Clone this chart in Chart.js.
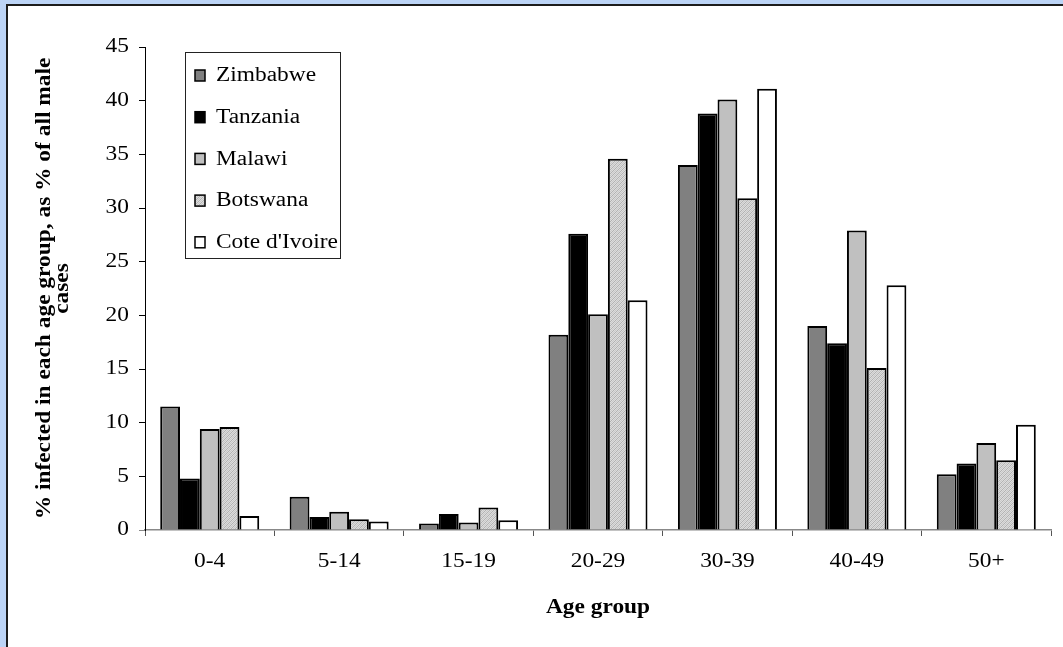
<!DOCTYPE html>
<html><head><meta charset="utf-8">
<script src="https://cdn.jsdelivr.net/npm/chart.js@4/dist/chart.umd.min.js"></script>
<style>html,body{margin:0;padding:0;background:#bcd4f6;overflow:hidden}canvas{display:block}</style>
</head><body><canvas id="c" width="1063" height="647"></canvas>
<script>
const categories = ['0-4','5-14','15-19','20-29','30-39','40-49','50+'];
const seriesNames = ['Zimbabwe','Tanzania','Malawi','Botswana',"Cote d'Ivoire"];
const zimbabwe    = [11.5, 3.1, 0.6, 18.2, 34.0, 19.0, 5.2];
const tanzania    = [4.8, 1.2, 1.5, 27.6, 38.8, 17.4, 6.2];
const malawi      = [9.4, 1.7, 0.7, 20.1, 40.1, 27.9, 8.1];
const botswana    = [9.6, 1.0, 2.1, 34.6, 30.9, 15.1, 6.5];
const coteDIvoire = [1.3, 0.8, 0.9, 21.4, 41.1, 22.8, 9.8];
const yTicks = [0, 5, 10, 15, 20, 25, 30, 35, 40, 45];
const yTitle = ['% infected in each age group, as % of all male', 'cases'];
const xTitle = 'Age group';

const SERIF = "'Liberation Serif', 'Times New Roman', serif";
const TEXT_STRETCH = 1.17;

const canvas = document.getElementById('c');
const ctx0 = canvas.getContext('2d');
const origFillText = ctx0.fillText.bind(ctx0);
ctx0.fillText = function (text, x, y, maxWidth) {
  this.save();
  this.translate(x, y);
  this.scale(TEXT_STRETCH, 1);
  if (maxWidth !== undefined) origFillText(text, 0, 0, maxWidth / TEXT_STRETCH);
  else origFillText(text, 0, 0);
  this.restore();
};

function hatch() {
  const p = document.createElement('canvas');
  p.width = 4; p.height = 4;
  const g = p.getContext('2d');
  g.fillStyle = '#dcdcdc'; g.fillRect(0, 0, 4, 4);
  g.fillStyle = '#b2b2b2';
  for (let i = 0; i < 4; i++) g.fillRect(i, 3 - i, 1, 1);
  g.fillStyle = '#c8c8c8';
  for (let i = 0; i < 4; i++) g.fillRect(i, (5 - i) % 4, 1, 1);
  return g.createPattern(p, 'repeat');
}
const fills = ['#808080', '#000000', '#c0c0c0', hatch(), '#ffffff'];
const values = [zimbabwe, tanzania, malawi, botswana, coteDIvoire];

const panelPlugin = {
  id: 'panel',
  beforeDraw(chart) {
    const ctx = chart.ctx;
    ctx.save();
    ctx.fillStyle = '#ffffff';
    ctx.fillRect(6, 4, 1200, 800);
    ctx.strokeStyle = '#1c1c1c';
    ctx.lineWidth = 2;
    ctx.beginPath();
    ctx.moveTo(7, 800); ctx.lineTo(7, 5); ctx.lineTo(1200, 5);
    ctx.stroke();
    ctx.restore();
  }
};

const legendPlugin = {
  id: 'boxLegend',
  afterDraw(chart) {
    const ctx = chart.ctx;
    ctx.save();
    ctx.fillStyle = '#ffffff';
    ctx.fillRect(185, 52, 155, 206);
    ctx.strokeStyle = '#222';
    ctx.lineWidth = 1;
    ctx.strokeRect(185.5, 52.5, 155, 206);
    chart.data.datasets.forEach((ds, i) => {
      const cy = 75 + i * 41.7;
      ctx.fillStyle = ds.backgroundColor;
      ctx.fillRect(195, cy - 5, 10, 11);
      ctx.strokeStyle = '#000';
      ctx.lineWidth = 1.5;
      ctx.strokeRect(195, cy - 5, 10, 11);
      ctx.fillStyle = '#000';
      ctx.font = '20px ' + SERIF;
      ctx.textBaseline = 'middle';
      ctx.textAlign = 'left';
      ctx.fillText(ds.label, 216, cy + 1);
    });
    ctx.restore();
  }
};

new Chart(canvas, {
  type: 'bar',
  data: {
    labels: categories,
    datasets: seriesNames.map((name, i) => ({
      label: name,
      data: values[i],
      backgroundColor: fills[i],
      borderColor: '#000',
      borderWidth: 2,
      barPercentage: 1.0,
      categoryPercentage: 0.765
    }))
  },
  options: {
    responsive: false,
    animation: false,
    devicePixelRatio: 1,
    layout: { padding: { left: 0, top: 47, right: 12, bottom: 0 } },
    plugins: { legend: { display: false }, tooltip: { enabled: false } },
    scales: {
      x: {
        ticks: { color: '#000', font: { family: SERIF, size: 20 }, padding: 14 },
        grid: { offset: true, drawOnChartArea: false, drawTicks: true, tickLength: 6, tickColor: '#555', lineWidth: 1 },
        border: { display: true, color: '#888', width: 1.5 },
        title: { display: true, text: xTitle, color: '#000', font: { family: SERIF, size: 20, weight: 'bold' }, padding: { top: 0, bottom: 27 } },
        afterFit(s) { s.height = 117; }
      },
      y: {
        min: 0, max: 45,
        afterBuildTicks(s) { s.ticks = yTicks.map(v => ({ value: v })); },
        ticks: { color: '#000', font: { family: SERIF, size: 20 }, padding: 10 },
        grid: { drawOnChartArea: false, drawTicks: true, tickLength: 6, tickColor: c => (c.tick && c.tick.value === 0 ? '#888' : '#000') },
        border: { display: true, color: '#000', width: 1 },
        title: { display: true, text: yTitle, color: '#000', font: { family: SERIF, size: 20, weight: 'bold', lineHeight: 0.88 }, padding: { top: 36, bottom: 0 } },
        afterFit(s) { s.width = 145; }
      }
    }
  },
  plugins: [panelPlugin, legendPlugin]
});
</script>
</body></html>
